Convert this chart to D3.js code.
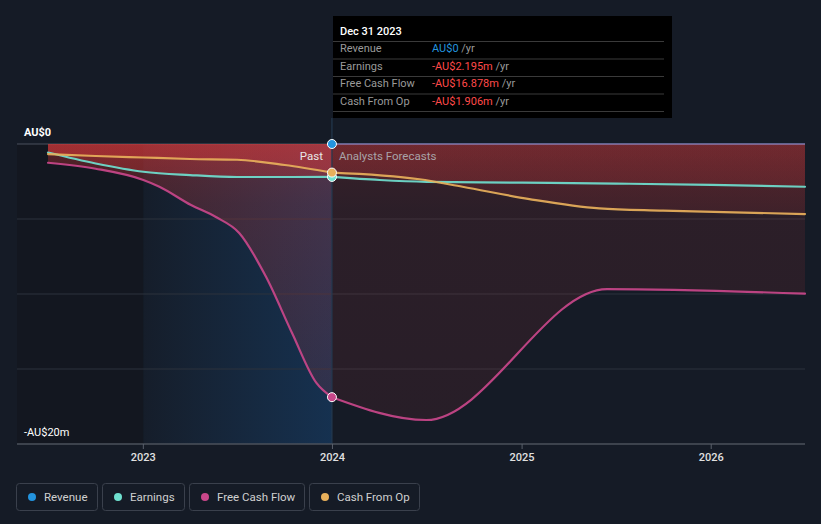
<!DOCTYPE html>
<html>
<head>
<meta charset="utf-8">
<script src="https://cdn.jsdelivr.net/npm/d3@7"></script>
<style>
  html, body { margin: 0; padding: 0; background: #151b26; }
  svg { display: block; font-family: Roboto, "Noto Sans", Arial, sans-serif; }
</style>
</head>
<body>
<svg id="chart" width="821" height="524"></svg>
<script>
// ---------- DATA (values in AU$ millions) ----------
const seriesNames = ["Revenue", "Earnings", "Free Cash Flow", "Cash From Op"];
const seriesColors = ["#2394df", "#6fe0cf", "#c9478a", "#e8b05b"];

const revenueDates = ["2023-12-31", "2026-07-01"];
const revenueValues = [0, 0];

const earningsDates = ["2022-07-01", "2022-10-01", "2023-01-01", "2023-04-01", "2023-07-01", "2023-10-01", "2023-12-31",
                       "2024-04-01", "2024-07-01", "2025-01-01", "2025-07-01", "2026-01-01", "2026-07-01"];
const earningsValues = [-0.57, -1.3, -1.85, -2.07, -2.2, -2.2, -2.195,
                        -2.4, -2.52, -2.58, -2.64, -2.72, -2.85];

const fcfDates = ["2022-07-01", "2022-10-01", "2023-01-01", "2023-02-01", "2023-04-03", "2023-05-21", "2023-07-05",
                  "2023-08-26", "2023-10-15", "2023-12-01", "2023-12-31",
                  "2024-06-30", "2025-06-14", "2026-07-01"];
const fcfValues = [-1.25, -1.65, -2.4, -2.85, -4.07, -4.87, -5.93,
                   -8.87, -12.6, -15.93, -16.878,
                   -18.4, -9.67, -9.98];

const cfoDates = ["2022-07-01", "2022-10-01", "2023-01-01", "2023-04-01", "2023-07-01", "2023-10-01", "2023-12-31",
                  "2024-06-17", "2024-09-08", "2025-01-15", "2025-05-30", "2025-09-30", "2026-07-01"];
const cfoValues = [-0.67, -0.8, -0.9, -1.0, -1.05, -1.4, -1.906,
                   -2.35, -2.85, -3.67, -4.29, -4.44, -4.67];

const yTickValues = [0, -20];
const yTickLabels = ["AU$0", "-AU$20m"];
const yGridValues = [0, -5, -10, -15, -20];
const xTickDates = ["2023-01-01", "2024-01-01", "2025-01-01", "2026-01-01"];
const xTickLabels = ["2023", "2024", "2025", "2026"];

const tooltipTitle = "Dec 31 2023";
const tooltipValues = ["AU$0", "-AU$2.195m", "-AU$16.878m", "-AU$1.906m"];

// ---------- SETUP ----------
const parse = d3.utcParse("%Y-%m-%d");
const zip = (ds, vs) => ds.map((d, i) => ({ date: parse(d), value: vs[i] }));
const revenue = zip(revenueDates, revenueValues);
const earnings = zip(earningsDates, earningsValues);
const fcf = zip(fcfDates, fcfValues);
const cfo = zip(cfoDates, cfoValues);

const svg = d3.select("#chart");
const x = d3.scaleUtc().domain([parse("2022-07-01"), parse("2026-07-01")]).range([48, 805]);
const y = d3.scaleLinear().domain([-20, 0]).range([444, 144]);
const plotLeft = 17, plotRight = 805;
const nowDate = parse("2023-12-31");
const xNow = x(nowDate);
const xPastStart = x(parse("2023-01-01"));
const pastPart = s => s.filter(d => d.date <= nowDate);
const futPart = s => s.filter(d => d.date >= nowDate);

const defs = svg.append("defs");
const pastGrad = defs.append("linearGradient").attr("id", "pastBlue")
  .attr("x1", 0).attr("x2", 1).attr("y1", 0).attr("y2", 0);
pastGrad.append("stop").attr("offset", "0%").attr("stop-color", "#1a4a7a").attr("stop-opacity", 0.05);
pastGrad.append("stop").attr("offset", "100%").attr("stop-color", "#16477a").attr("stop-opacity", 0.5);

const redPast = defs.append("linearGradient").attr("id", "redPast")
  .attr("gradientUnits", "userSpaceOnUse").attr("x1", 0).attr("x2", 0).attr("y1", y(0)).attr("y2", y(-20));
redPast.append("stop").attr("offset", "0%").attr("stop-color", "#e23a3a").attr("stop-opacity", 0.32);
redPast.append("stop").attr("offset", "20%").attr("stop-color", "#e23a3a").attr("stop-opacity", 0.22);
redPast.append("stop").attr("offset", "100%").attr("stop-color", "#e23a3a").attr("stop-opacity", 0.1);

const redFut = defs.append("linearGradient").attr("id", "redFut")
  .attr("gradientUnits", "userSpaceOnUse").attr("x1", 0).attr("x2", 0).attr("y1", y(0)).attr("y2", y(-20));
redFut.append("stop").attr("offset", "0%").attr("stop-color", "#e23a3a").attr("stop-opacity", 0.18);
redFut.append("stop").attr("offset", "22%").attr("stop-color", "#e23a3a").attr("stop-opacity", 0.11);
redFut.append("stop").attr("offset", "100%").attr("stop-color", "#e23a3a").attr("stop-opacity", 0.09);

// darker early region and past highlight
svg.append("rect").attr("x", plotLeft).attr("y", y(0)).attr("width", xPastStart - plotLeft)
  .attr("height", y(-20) - y(0)).attr("fill", "#13161d").attr("opacity", 0.6);
svg.append("rect").attr("x", xPastStart).attr("y", y(0)).attr("width", xNow - xPastStart)
  .attr("height", y(-20) - y(0)).attr("fill", "url(#pastBlue)");

// gridlines
svg.append("g").selectAll("line").data(yGridValues).join("line")
  .attr("x1", plotLeft).attr("x2", plotRight)
  .attr("y1", d => y(d)).attr("y2", d => y(d))
  .attr("stroke", d => d === 0 ? "#4a505c" : "#2c323d").attr("stroke-width", 1);

// areas
const area = d3.area().x(d => x(d.date)).y0(y(0)).y1(d => y(d.value)).curve(d3.curveMonotoneX);
[earnings, fcf, cfo].forEach(s => {
  svg.append("path").datum(pastPart(s)).attr("d", area).attr("fill", "url(#redPast)");
  svg.append("path").datum(futPart(s)).attr("d", area).attr("fill", "url(#redFut)");
});

// now line
svg.append("line").attr("x1", xNow).attr("x2", xNow).attr("y1", 118).attr("y2", y(-20))
  .attr("stroke", "#23384f").attr("stroke-width", 1.2);

// lines
const line = d3.line().x(d => x(d.date)).y(d => y(d.value)).curve(d3.curveMonotoneX);
svg.append("path").datum(revenue).attr("d", line).attr("fill", "none")
  .attr("stroke", "#8a8ad0").attr("stroke-opacity", 0.55).attr("stroke-width", 2);
const lineSeries = [[earnings, seriesColors[1]], [cfo, seriesColors[3]], [fcf, seriesColors[2]]];
lineSeries.forEach(([s, c]) => {
  [pastPart(s), futPart(s)].forEach(part => {
    svg.append("path").datum(part).attr("d", line).attr("fill", "none")
      .attr("stroke", c).attr("stroke-width", 2.2).attr("stroke-opacity", 0.92)
      .attr("stroke-linecap", "round");
  });
});

// Past / Analysts Forecasts
svg.append("text").attr("x", xNow - 9).attr("y", 160).attr("text-anchor", "end")
  .attr("fill", "#e8e8e8").attr("font-size", 11.5).text("Past");
svg.append("text").attr("x", xNow + 7).attr("y", 160)
  .attr("fill", "#a8a3a8").attr("font-size", 11.5).text("Analysts Forecasts");

// now dots
const nowPoints = [
  [revenue, seriesColors[0]], [earnings, seriesColors[1]], [fcf, seriesColors[2]], [cfo, seriesColors[3]]
];
nowPoints.forEach(([s, c]) => {
  const p = s.find(d => +d.date === +nowDate);
  svg.append("circle").attr("cx", x(p.date)).attr("cy", y(p.value)).attr("r", 4.5)
    .attr("fill", c).attr("stroke", "#ffffff").attr("stroke-width", 1);
});

// y labels
svg.append("g").selectAll("text").data(yTickValues).join("text")
  .attr("x", 24).attr("y", (d, i) => y(d) - 8)
  .attr("fill", "#ffffff").attr("font-size", 11).attr("font-weight", (d, i) => i === 0 ? 700 : 400)
  .text((d, i) => yTickLabels[i]);

// x axis
svg.append("line").attr("x1", plotLeft).attr("x2", plotRight).attr("y1", y(-20)).attr("y2", y(-20))
  .attr("stroke", "#5a606b").attr("stroke-width", 1);
const xt = svg.append("g").selectAll("g").data(xTickDates).join("g")
  .attr("transform", d => `translate(${x(parse(d))},${y(-20)})`);
xt.append("line").attr("y1", 0).attr("y2", 5).attr("stroke", "#5a606b");
xt.append("text").attr("y", 17).attr("text-anchor", "middle").attr("fill", "#e0e0e0")
  .attr("font-size", 11).attr("font-weight", 500).text((d, i) => xTickLabels[i]);

// tooltip
const tt = svg.append("g").attr("transform", "translate(333,16)");
tt.append("rect").attr("width", 339).attr("height", 102).attr("fill", "#000000");
tt.append("text").attr("x", 7).attr("y", 19).attr("fill", "#ffffff").attr("font-size", 11)
  .attr("font-weight", 500).text(tooltipTitle);
const rowY = [36, 53.5, 71, 88.5];
[25.5, 43, 60.5, 78, 95.5].forEach(ly => {
  tt.append("line").attr("x1", 0).attr("x2", 331).attr("y1", ly).attr("y2", ly)
    .attr("stroke", "#3a3a3a").attr("stroke-width", 1);
});
seriesNames.forEach((n, i) => {
  tt.append("text").attr("x", 7).attr("y", rowY[i]).attr("fill", "#9a9a9a").attr("font-size", 11).text(n);
  const t = tt.append("text").attr("x", 99).attr("y", rowY[i]).attr("font-size", 11);
  t.append("tspan").attr("fill", i === 0 ? "#2394df" : "#ff4a4a").text(tooltipValues[i]);
  t.append("tspan").attr("fill", "#9a9a9a").text(" /yr");
});

// legend
const legendX = [16, 102, 189, 309];
const legendW = [81, 82, 115, 110];
const lg = svg.append("g").selectAll("g").data(seriesNames).join("g")
  .attr("transform", (d, i) => `translate(${legendX[i]},483)`);
lg.append("rect").attr("x", 0.5).attr("y", 0.5).attr("width", (d, i) => legendW[i]).attr("height", 27)
  .attr("rx", 3).attr("fill", "none").attr("stroke", "#3a404c");
lg.append("circle").attr("cx", 16).attr("cy", 14).attr("r", 4).attr("fill", (d, i) => seriesColors[i]);
lg.append("text").attr("x", 28).attr("y", 18).attr("fill", "#d0d0d0").attr("font-size", 11.5).text(d => d);
</script>
</body>
</html>
